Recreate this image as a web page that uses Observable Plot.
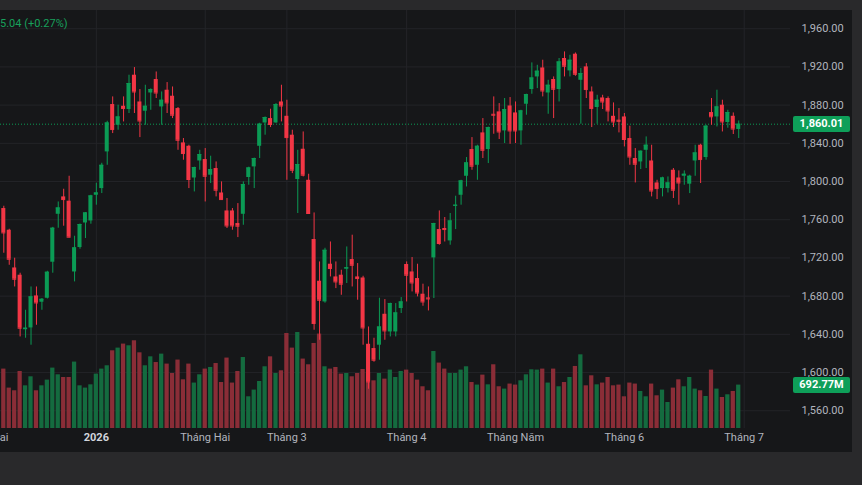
<!DOCTYPE html>
<html><head><meta charset="utf-8">
<script src="https://cdn.jsdelivr.net/npm/d3@7"></script>
<script src="https://cdn.jsdelivr.net/npm/@observablehq/plot@0.6"></script>
<style>
html,body{margin:0;padding:0;background:#29292b;width:862px;height:485px;overflow:hidden;font-family:Roboto,"Noto Sans",sans-serif}
#wrap{position:relative;width:862px;height:485px;overflow:hidden}
#panel{position:absolute;left:0;top:10px;width:852px;height:442px;background:#161719}
.layer{position:absolute;left:0;top:0}
.tag{position:absolute;left:793px;width:57px;height:16px;line-height:16px;text-align:center;color:#fff;font-size:11px;font-weight:700;background:#0e9f59;border-radius:2px}
#legend{position:absolute;left:0;top:17px;color:#18a05c;font-size:11px;white-space:nowrap}
</style></head><body>
<div id="wrap"><div id="panel"></div><div id="legend">5.04 (+0.27%)</div></div>
<script>
const open=[1771.7,1749.0,1709.5,1701.9,1644.8,1646.7,1680.2,1673.6,1677.8,1715.5,
1765.7,1783.9,1779.4,1705.3,1730.9,1756.6,1758.7,1785.6,1792.6,1831.0,
1880.6,1858.9,1878.8,1875.4,1911.3,1883.3,1873.6,1892.7,1906.8,1878.1,
1895.6,1889.3,1876.4,1840.4,1836.9,1803.7,1821.5,1823.0,1806.6,1813.6,
1788.0,1769.2,1769.2,1756.0,1765.7,1804.2,1815.3,1836.9,1861.3,1865.9,
1861.3,1883.3,1868.3,1848.5,1802.1,1833.8,1801.3,1739.3,1695.6,1673.9,
1713.4,1700.1,1701.9,1708.2,1718.3,1700.1,1699.0,1629.6,1625.1,1628.6,
1661.0,1642.5,1642.5,1667.0,1713.1,1705.3,1698.4,1682.0,1678.1,1720.0,
1749.7,1750.8,1737.8,1774.1,1785.6,1805.5,1833.5,1817.0,1850.9,1833.5,
1870.4,1872.9,1853.0,1879.1,1871.8,1853.0,1880.9,1896.3,1909.5,1918.9,
1892.7,1906.8,1896.3,1928.8,1915.8,1933.3,1906.0,1920.0,1893.8,1877.5,
1887.5,1886.9,1868.3,1864.2,1867.6,1845.0,1824.1,1820.5,1832.7,1821.5,
1798.5,1792.6,1792.6,1811.8,1803.7,1805.5,1797.2,1821.5,1838.0,1825.1,
1872.2,1867.6,1879.9,1861.8,1868.3,1854.5];
const high=[1774.1,1750.0,1719.7,1704.0,1665.2,1689.6,1689.6,1677.5,1706.0,1752.0,
1778.6,1791.9,1805.5,1742.7,1755.5,1767.5,1785.6,1798.2,1819.1,1863.1,
1888.6,1879.9,1888.6,1911.3,1919.3,1896.3,1900.8,1897.0,1914.7,1893.8,
1903.6,1899.0,1877.5,1845.0,1838.0,1815.0,1832.7,1834.5,1826.5,1820.5,
1799.6,1782.2,1771.7,1776.9,1799.6,1815.0,1824.5,1861.0,1867.6,1875.7,
1881.6,1900.8,1885.1,1853.7,1832.7,1851.9,1807.6,1767.1,1715.8,1730.1,
1736.7,1715.8,1707.1,1731.5,1743.8,1714.1,1700.8,1647.7,1635.9,1677.8,
1676.4,1672.6,1672.2,1678.5,1715.8,1720.4,1713.4,1692.5,1689.6,1756.3,
1769.2,1762.3,1766.5,1784.6,1801.3,1825.1,1846.0,1838.0,1865.9,1857.0,
1888.6,1881.6,1886.9,1887.9,1883.3,1874.6,1891.4,1924.2,1921.7,1927.0,
1906.0,1909.5,1928.8,1935.7,1932.2,1934.6,1918.3,1923.5,1899.0,1890.3,
1890.3,1888.6,1882.3,1876.4,1871.2,1857.9,1834.5,1832.0,1846.7,1838.0,
1801.3,1804.5,1804.8,1813.6,1811.1,1811.1,1806.6,1838.0,1839.0,1858.9,
1886.9,1895.6,1885.1,1874.6,1871.8,1863.4];
const low=[1724.9,1712.3,1689.6,1637.3,1635.9,1628.6,1649.5,1665.2,1677.0,1704.0,
1751.1,1753.2,1741.0,1694.9,1729.1,1740.3,1755.3,1775.2,1787.4,1817.0,
1850.2,1853.7,1862.4,1871.2,1871.2,1846.0,1858.9,1874.6,1886.9,1858.9,
1871.2,1865.9,1832.7,1822.3,1792.6,1789.1,1811.8,1778.6,1797.9,1783.9,
1780.5,1750.8,1749.0,1741.3,1754.2,1796.1,1792.6,1824.1,1848.5,1856.5,
1861.0,1862.4,1801.3,1808.3,1766.5,1804.8,1765.7,1644.3,1633.8,1672.6,
1700.1,1687.9,1680.9,1693.2,1689.6,1675.7,1628.6,1582.5,1610.8,1612.9,
1633.8,1637.3,1637.3,1661.8,1673.9,1684.4,1679.2,1669.4,1664.5,1677.5,
1733.3,1736.7,1733.3,1749.7,1775.2,1794.3,1811.8,1801.3,1824.1,1818.8,
1849.5,1844.0,1839.8,1839.0,1839.8,1838.0,1869.4,1891.4,1897.3,1888.6,
1870.4,1865.9,1883.3,1909.5,1909.5,1910.2,1860.0,1886.9,1856.5,1860.0,
1875.4,1862.4,1856.5,1850.9,1836.2,1817.0,1798.5,1812.5,1813.6,1783.9,
1781.1,1783.9,1788.0,1782.2,1775.2,1796.1,1787.4,1805.5,1797.9,1822.3,
1858.9,1857.1,1851.9,1855.8,1849.2,1845.0];
const close=[1746.2,1718.6,1697.7,1646.4,1646.4,1679.2,1672.9,1676.7,1705.0,1751.1,
1772.3,1781.1,1741.7,1730.5,1755.0,1767.1,1784.9,1788.0,1817.0,1861.3,
1854.4,1867.6,1876.4,1902.6,1893.8,1863.4,1878.8,1896.3,1892.7,1885.1,
1882.3,1869.4,1843.2,1829.3,1802.1,1814.6,1828.2,1805.5,1812.5,1790.9,
1781.1,1753.5,1753.5,1753.2,1796.8,1814.2,1824.1,1860.0,1867.0,1859.7,
1880.6,1879.1,1846.0,1811.8,1817.8,1806.6,1766.5,1651.3,1675.7,1728.0,
1708.9,1694.9,1692.5,1709.7,1712.3,1698.4,1646.7,1590.2,1612.9,1647.7,
1643.6,1672.2,1662.4,1673.9,1701.9,1693.8,1683.3,1673.9,1677.1,1756.0,
1735.1,1749.7,1758.7,1775.2,1800.6,1819.5,1816.0,1836.9,1832.7,1856.5,
1869.4,1851.9,1875.4,1853.0,1853.0,1873.9,1891.1,1908.4,1915.5,1894.8,
1900.8,1896.6,1925.2,1920.7,1927.0,1912.3,1913.1,1896.3,1876.4,1885.1,
1883.3,1873.9,1862.4,1863.1,1844.0,1825.7,1818.1,1831.7,1838.0,1790.1,
1792.6,1803.7,1798.5,1790.9,1798.5,1807.6,1805.5,1829.9,1823.0,1857.9,
1867.8,1878.1,1862.4,1872.2,1854.97,1860.01];
// volume, millions
const volume=[948,645,602,910,681,825,602,681,772,964,
857,814,814,1060,681,645,697,868,948,1001,
1240,1283,1347,1320,1400,1208,1001,1144,1053,1187,
1028,878,1092,777,1028,725,857,948,974,1037,
734,1124,725,910,1133,506,613,750,985,1144,
878,921,1516,1283,1532,1108,1017,1357,1507,985,
948,974,868,878,825,878,942,889,761,878,
788,932,814,910,932,878,772,666,602,1229,
1044,948,878,878,932,985,734,693,852,697,
1017,666,629,709,693,761,857,937,932,948,
725,948,666,734,814,990,1176,681,841,697,
725,814,681,693,506,725,709,591,506,709,
522,613,415,645,777,666,814,629,602,511,
932,629,495,538,591,692.77];
const priceTicks=[1560,1600,1640,1680,1720,1760,1800,1840,1880,1920,1960];
const monthIdx=[-6.35,37,52,74,94,114,136];
const monthLabels=["Tháng Mười Hai","Tháng Hai","Tháng 3","Tháng 4","Tháng Năm","Tháng 6","Tháng 7"];
const yearIdx=[17];
const yearLabels=["2026"];
const lastPrice=1860.01, lastVolume=692.77;
const legendText="5.04 (+0.27%)";

const UP="#0b9b55", DOWN="#f23645", VUP="#146b3f", VDOWN="#8a2d37";
const candles=close.map((c,i)=>({i,open:open[i],high:high[i],low:low[i],close:c,vol:volume[i],up:c>=open[i]}));

const W=862,H=485;
const common={width:W,height:H,marginLeft:0,marginRight:72,marginTop:10,marginBottom:57,
  x:{type:"linear",domain:[-0.606,144.51],axis:null},
  style:{background:"transparent",color:"#b2b5be",fontFamily:"Roboto, 'Noto Sans', sans-serif",fontSize:"11px",overflow:"visible"}};
const yPrice={domain:[1541.4,1979.06],axis:null};

// layer 1: grid and axes
const base=Plot.plot({...common,y:yPrice,marks:[
  Plot.gridY(priceTicks,{stroke:"#232428",strokeOpacity:1}),
  Plot.gridX(monthIdx.concat(yearIdx).filter(d=>d>=0),{stroke:"#232428",strokeOpacity:1,y1:1541.4,y2:1979.06}),
  Plot.axisY(priceTicks,{anchor:"right",tickSize:0,tickPadding:11,textAnchor:"start",tickFormat:",.2f",fill:"#b2b5be",fontSize:11}),
  Plot.text(monthIdx,{x:d=>d,text:(d,i)=>monthLabels[i],frameAnchor:"bottom",dy:12,fill:"#b2b5be",fontSize:11}),
  Plot.text(yearIdx,{x:d=>d,text:(d,i)=>yearLabels[i],frameAnchor:"bottom",dy:12,fill:"#d1d4dc",fontSize:11,fontWeight:"bold"})
]});
// layer 2: volume
const vol=Plot.plot({...common,y:{domain:[0,6671],axis:null},marks:[
  Plot.rect(candles,{x1:d=>d.i-0.39,x2:d=>d.i+0.39,y1:0,y2:"vol",fill:d=>d.up?VUP:VDOWN})
]});
// layer 3: candles
const price=Plot.plot({...common,y:yPrice,marks:[
  Plot.ruleY([lastPrice],{stroke:UP,strokeDasharray:"1,2",strokeWidth:1}),
  Plot.ruleX(candles,{x:"i",y1:"low",y2:"high",stroke:d=>d.up?UP:DOWN,strokeWidth:1}),
  Plot.rect(candles,{x1:d=>d.i-0.37,x2:d=>d.i+0.37,y1:"open",y2:"close",fill:d=>d.up?UP:DOWN}),
  Plot.ruleY(candles,{x1:d=>d.i-0.37,x2:d=>d.i+0.37,y:"close",stroke:d=>d.up?UP:DOWN,strokeWidth:1})
]});
const wrap=document.getElementById("wrap");
for(const p of [base,vol,price]){p.classList.add("layer");p.style.position="absolute";p.style.left="0";p.style.top="0";wrap.appendChild(p);}
document.getElementById("legend").textContent=legendText;
const tp=document.createElement("div");tp.className="tag";
tp.style.top=(price.scale("y").apply(lastPrice)-8)+"px";tp.textContent=d3.format(",.2f")(lastPrice);wrap.appendChild(tp);
const tv=document.createElement("div");tv.className="tag";
tv.style.top=(vol.scale("y").apply(lastVolume)-8)+"px";tv.textContent=d3.format(".2f")(lastVolume)+"M";wrap.appendChild(tv);
wrap.appendChild(document.getElementById("legend"));
</script>
</body></html>
